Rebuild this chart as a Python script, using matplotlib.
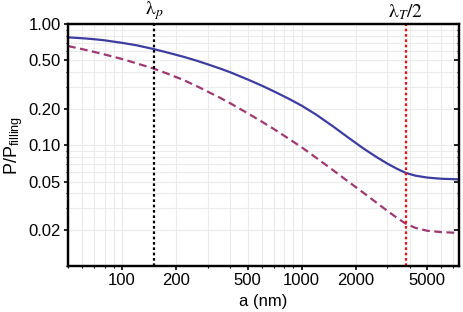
import matplotlib
matplotlib.use("Agg")
import matplotlib.pyplot as plt
from matplotlib.ticker import FixedLocator, FixedFormatter, LogLocator, NullFormatter

# Values (log-log axes)
a_nm = [50, 60, 70, 80, 100, 120, 150, 180, 220, 260, 300, 350, 400, 500, 600, 700,
        850, 1000, 1200, 1500, 1800, 2200, 2600, 3000, 3400, 3800, 4300, 5000, 6000, 7500]
ratio_solid = [0.776, 0.763, 0.749, 0.733, 0.699, 0.668, 0.621, 0.580, 0.536, 0.498,
               0.4645, 0.4296, 0.3996, 0.3484, 0.3097, 0.2779, 0.2408, 0.2116, 0.179, 0.1422,
               0.1165, 0.0941, 0.0799, 0.0703, 0.0636, 0.0589, 0.0559, 0.0539, 0.0527, 0.0521]
ratio_dashed = [0.658, 0.620, 0.588, 0.560, 0.514, 0.4743, 0.428, 0.3878, 0.3444, 0.3073,
                0.2763, 0.2464, 0.2216, 0.1832, 0.1561, 0.1356, 0.1125, 0.0959, 0.0788, 0.0618,
                0.0505, 0.0405, 0.0336, 0.0286, 0.025, 0.0224, 0.0207, 0.0196, 0.0191, 0.0188]

lambda_p = 150
lambda_T_half = 3800

x_ticks = [100, 200, 500, 1000, 2000, 5000]
x_tick_labels = ["100", "200", "500", "1000", "2000", "5000"]
y_ticks = [0.02, 0.05, 0.1, 0.2, 0.5, 1.0]
y_tick_labels = ["0.02", "0.05", "0.10", "0.20", "0.50", "1.00"]

plt.rcParams['font.family'] = ['Liberation Sans', 'DejaVu Sans']
plt.rcParams['mathtext.fontset'] = 'stix'

fig = plt.figure(figsize=(4.63, 3.12), dpi=100)
ax = fig.add_axes([0.147, 0.147, 0.844, 0.776])

ax.set_xscale('log')
ax.set_yscale('log')
ax.set_xlim(50, 7500)
ax.set_ylim(0.01, 1.0)

# light grid on major and minor positions
ax.grid(True, which='both', color='#ebebeb', lw=0.8)
ax.set_axisbelow(True)

ax.plot(a_nm, ratio_solid, color='#3d3da0', lw=1.6)
ax.plot(a_nm, ratio_dashed, color='#9e3a72', lw=1.6, dashes=(3.5, 2))

ax.axvline(lambda_p, color='black', lw=1.6, ls=(0, (1.2, 1.2)))
ax.axvline(lambda_T_half, color='#ee1111', lw=1.6, ls=(0, (1.2, 1.2)))

ax.text(lambda_p, 1.008, r'$\mathrm{\lambda}_p$', transform=ax.get_xaxis_transform(),
        ha='center', va='bottom', fontsize=14)
ax.text(lambda_T_half, 1.008, r'$\mathrm{\lambda}_T/2$', transform=ax.get_xaxis_transform(),
        ha='center', va='bottom', fontsize=14)

ax.xaxis.set_major_locator(FixedLocator(x_ticks))
ax.xaxis.set_major_formatter(FixedFormatter(x_tick_labels))
ax.xaxis.set_minor_locator(LogLocator(base=10, subs=range(2, 10)))
ax.xaxis.set_minor_formatter(NullFormatter())
ax.yaxis.set_major_locator(FixedLocator(y_ticks))
ax.yaxis.set_major_formatter(FixedFormatter(y_tick_labels))
ax.yaxis.set_minor_locator(LogLocator(base=10, subs=range(1, 10)))
ax.yaxis.set_minor_formatter(NullFormatter())

# outward ticks on the left/bottom
ax.tick_params(which='both', direction='out', labelsize=12)
ax.tick_params(which='major', length=3, width=1.2, pad=2)
ax.tick_params(which='minor', length=1.5, width=0.8)

# inward ticks on the right side
ax_r = ax.twinx()
ax_r.set_yscale('log')
ax_r.set_ylim(ax.get_ylim())
ax_r.yaxis.set_major_locator(FixedLocator(y_ticks))
ax_r.yaxis.set_minor_locator(LogLocator(base=10, subs=range(1, 10)))
ax_r.yaxis.set_major_formatter(NullFormatter())
ax_r.yaxis.set_minor_formatter(NullFormatter())
ax_r.tick_params(which='both', direction='in')
ax_r.tick_params(which='major', length=3.5, width=1.2)
ax_r.tick_params(which='minor', length=1.5, width=0.8)

for s in ax.spines.values():
    s.set_linewidth(1.6)
for s in ax_r.spines.values():
    s.set_linewidth(1.6)

ax.set_xlabel('a (nm)', fontsize=12, labelpad=4)
ax.set_ylabel(r'P/P$_{\mathregular{filling}}$', fontsize=13, labelpad=3)

fig.savefig('out.png', dpi=100)
